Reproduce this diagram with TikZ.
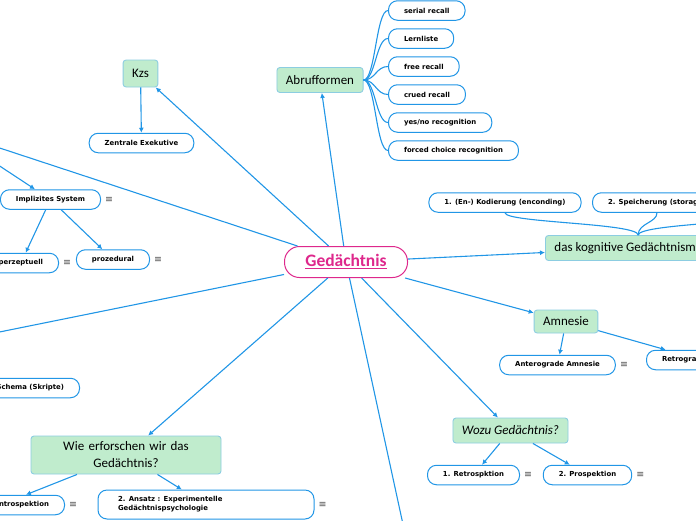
\documentclass[tikz,border=0pt]{standalone}
\usepackage{fontspec}
\setmainfont{Carlito}
\newfontfamily\leaffont{DejaVu Sans}
\usepackage{xcolor}
\usepackage{tikz}
\usetikzlibrary{arrows.meta,positioning}
\definecolor{linkblue}{RGB}{33,150,230}
\definecolor{topicgreen}{RGB}{192,236,205}
\definecolor{topicedge}{RGB}{140,205,225}
\definecolor{rootpink}{RGB}{222,40,140}
\newcommand\ulroot[1]{\setbox0\hbox{#1}\rlap{\rule[-2.6pt]{\wd0}{1.4pt}}\box0}

\begin{document}
\begin{tikzpicture}[x=1pt,y=-1pt,
  every node/.style={font=\fontsize{13}{17}\selectfont},
  root/.style={draw=rootpink,line width=1pt,rounded corners=15pt,fill=white,minimum width=123pt,minimum height=31pt,text=rootpink,font=\fontsize{17.5}{19}\selectfont\bfseries},
  topic/.style={draw=topicedge,line width=0.9pt,fill=topicgreen,rounded corners=3pt,inner xsep=9pt,minimum height=25pt},
  leaf/.style={draw=linkblue,line width=1pt,fill=white,rounded corners=9pt,inner xsep=15.5pt,inner ysep=0pt,minimum height=19.5pt,font=\leaffont\bfseries\fontsize{6.9}{9}\selectfont},
  more/.style={inner sep=1pt,text=black!70,font=\leaffont\fontsize{9.5}{10}\selectfont},
  arr/.style={linkblue,line width=1.1pt,-{Latex[length=5pt,width=5pt]}},
  ln/.style={linkblue,line width=1.1pt}]
\useasboundingbox (0,0) rectangle (696,520);
\clip (0,0) rectangle (696,520);

\node[root] (ged) at (346,262) {\ulroot{Gedächtnis}};

\node[topic] (abruf) at (320,80) {Abrufformen};
\node[leaf,anchor=west] (serial) at (388,10.5) {serial recall};
\node[leaf,anchor=west] (lern) at (388,38.5) {Lernliste};
\node[leaf,anchor=west] (free) at (388,66.5) {free recall};
\node[leaf,anchor=west] (crued) at (388,94.5) {crued recall};
\node[leaf,anchor=west] (yesno) at (388,122.5) {yes/no recognition};
\node[leaf,anchor=west] (forced) at (388,150.5) {forced choice recognition};

\node[topic,minimum height=27pt] (kzs) at (140.5,73.5) {Kzs};
\node[leaf] (zentral) at (141.5,143) {Zentrale Exekutive};

\coordinate (ltm) at (-55,130);
\node[leaf] (impl) at (50.5,199.5) {Implizites System};
\node[more,right=3pt of impl] (implm) {≡};
\node[leaf,anchor=east] (perz) at (59,263) {perzeptuell};
\node[more,right=3pt of perz] (perzm) {≡};
\node[leaf] (proz) at (113,259.5) {prozedural};
\node[more,right=3pt of proz] (prozm) {≡};

\coordinate (lower) at (-50,342);
\node[leaf,anchor=east] (schema) at (80,388) {Schema (Skripte)};

\node[topic,text width=172pt,align=center,minimum height=38pt] (wie) at (126,455) {Wie erforschen wir das\\Gedächtnis?};
\node[leaf,anchor=east] (intro) at (65,505) {1. Ansatz : Introspektion};
\node[more,right=3pt of intro] (introm) {≡};
\node[leaf,text width=176pt,align=left,inner xsep=20pt,minimum height=29pt] (ansatz) at (206,504.5) {2. Ansatz : Experimentelle\\Gedächtnispsychologie};
\node[more,right=3pt of ansatz] (ansatzm) {≡};

\coordinate (down) at (414,575);

\node[topic,anchor=west] (modell) at (545,248) {das kognitive Gedächtnismodell};
\node[leaf] (kod) at (505,202.5) {1. (En-) Kodierung (enconding)};
\node[leaf,anchor=west] (speich) at (592,202.5) {2. Speicherung (storage)};
\coordinate (third) at (790,212);

\node[topic,minimum height=23pt] (amn) at (566,321.5) {Amnesie};
\node[leaf] (antero) at (557.5,365) {Anterograde Amnesie};
\node[more,right=3pt of antero] (anterom) {≡};
\node[leaf,anchor=west] (retro) at (646,360) {Retrograde Amnesie};

\node[topic,font=\fontsize{13}{17}\selectfont\itshape] (wozu) at (510.5,430.5) {Wozu Gedächtnis?};
\node[leaf] (retrosp) at (473.5,475) {1. Retrospktion};
\node[more,right=3pt of retrosp] (retrospm) {≡};
\node[leaf] (prosp) at (587.5,475) {2. Prospektion};
\node[more,right=3pt of prosp] (prospm) {≡};

\draw[arr] (ged) -- (kzs);
\draw[arr] (ged) -- (abruf);
\draw[arr] (ged) -- (ltm);
\draw[arr] (ged) -- (lower);
\draw[arr] (ged) -- (wie);
\draw[arr] (ged) -- (down);
\draw[arr] (ged) -- (modell);
\draw[arr] (ged) -- (amn);
\draw[arr] (ged) -- (wozu);
\draw[arr] (kzs) -- (zentral);
\draw[arr] (ltm) -- (impl);
\draw[arr] (impl) -- (perz);
\draw[arr] (impl) -- (proz);
\draw[arr] (wie) -- (intro);
\draw[arr] (wie) -- (ansatz);
\draw[arr] (amn) -- (antero);
\draw[arr] (amn) -- (retro);
\draw[arr] (wozu) -- (retrosp);
\draw[arr] (wozu) -- (prosp);

\draw[ln] (abruf.east) .. controls +(12,0) and +(-12,0) .. (serial.west);
\draw[ln] (abruf.east) .. controls +(12,0) and +(-12,0) .. (lern.west);
\draw[ln] (abruf.east) .. controls +(12,0) and +(-12,0) .. (free.west);
\draw[ln] (abruf.east) .. controls +(12,0) and +(-12,0) .. (crued.west);
\draw[ln] (abruf.east) .. controls +(12,0) and +(-12,0) .. (yesno.west);
\draw[ln] (abruf.east) .. controls +(12,0) and +(-12,0) .. (forced.west);

\draw[ln] (kod.south) .. controls +(0,10) and +(0,-12) .. (modell.north);
\draw[ln] (speich.south) .. controls +(0,10) and +(0,-12) .. (modell.north);
\draw[ln] (third) .. controls +(0,10) and +(0,-12) .. (modell.north);
\end{tikzpicture}
\end{document}
